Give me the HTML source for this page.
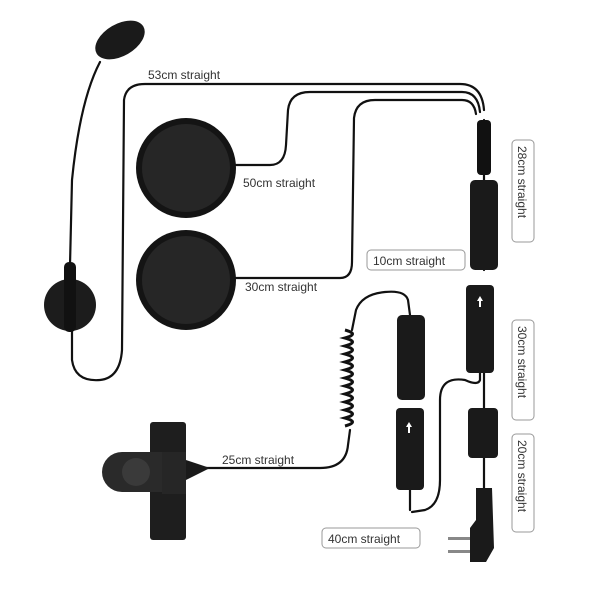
<!DOCTYPE html>
<html><head><meta charset="utf-8"><style>
html,body{margin:0;padding:0;background:#fff;}
svg{display:block}
text{font-family:"Liberation Sans",sans-serif;font-size:12px;fill:#333}
</style></head><body>
<svg width="600" height="600" viewBox="0 0 600 600" xmlns="http://www.w3.org/2000/svg">
<g fill="none" stroke="#111" stroke-width="2.2" stroke-linecap="round">
 <path d="M100 62 Q80 100 72 180 L70 265"/>
 <path d="M72 330 L72 360 Q75 382 100 380 Q120 378 122 350 L124 100 Q126 84 145 84 L460 84 Q482 84 484 110"/>
 <path d="M232 165 L270 165 Q285 165 286 145 L288 110 Q290 92 310 92 L462 92 Q478 92 480 112"/>
 <path d="M232 278 L340 278 Q352 278 352 262 L354 118 Q356 100 375 100 L462 100 Q474 100 476 114"/>
 <path d="M484 120 L484 270"/>
 <path d="M480 360 L480 380 Q478 386 465 380 Q440 376 440 400 L440 480 Q440 505 425 510 L412 512"/>
 <path d="M484 370 L484 410"/>
 <path d="M484 455 L484 490"/>
 <path d="M410 315 L408 300 Q405 290 385 292 Q362 294 356 310 L352 330"/>
 <path d="M350 430 L348 445 Q346 468 320 468 L205 468"/>
 <path d="M410 490 L410 510"/>
</g>
<g stroke="#111" stroke-width="3" fill="none">
 <path d="M345 330 q15 4 0 8 q15 4 0 8 q15 4 0 8 q15 4 0 8 q15 4 0 8 q15 4 0 8 q15 4 0 8 q15 4 0 8 q15 4 0 8 q15 4 0 8 q15 4 0 8 q15 4 0 8"/>
</g>
<ellipse cx="120" cy="40" rx="27" ry="16" transform="rotate(-30 120 40)" fill="#1a1a1a"/>
<circle cx="70" cy="305" r="26" fill="#1c1c1c"/>
<rect x="64" y="262" width="12" height="70" rx="5" fill="#111"/>
<circle cx="186" cy="168" r="50" fill="#141414"/>
<circle cx="186" cy="168" r="44" fill="#262626"/>
<circle cx="186" cy="280" r="50" fill="#141414"/>
<circle cx="186" cy="280" r="44" fill="#262626"/>
<rect x="477" y="120" width="14" height="55" rx="4" fill="#111"/>
<rect x="470" y="180" width="28" height="90" rx="5" fill="#1a1a1a"/>
<rect x="466" y="285" width="28" height="88" rx="4" fill="#1a1a1a"/>
<rect x="397" y="315" width="28" height="85" rx="5" fill="#1a1a1a"/>
<rect x="396" y="408" width="28" height="82" rx="4" fill="#1a1a1a"/>
<rect x="468" y="408" width="30" height="50" rx="4" fill="#1a1a1a"/>
<path d="M476 488 L492 488 L494 548 L486 562 L470 562 L470 528 L476 520 Z" fill="#1a1a1a"/>
<rect x="448" y="537" width="22" height="3" fill="#888"/>
<rect x="448" y="550" width="22" height="3" fill="#888"/>
<path d="M409 422 l-3 5 h2 v6 h2 v-6 h2 z M480 296 l-3 5 h2 v6 h2 v-6 h2 z" fill="#fff"/>
<!-- PTT clip -->
<rect x="150" y="422" width="36" height="118" rx="3" fill="#1e1e1e"/>
<path d="M122 452 L185 452 L185 492 L122 492 A20 20 0 0 1 122 452 Z" fill="#2a2a2a"/>
<circle cx="136" cy="472" r="14" fill="#3a3a3a"/>
<rect x="162" y="452" width="24" height="42" fill="#262626"/>
<path d="M186 460 L210 468 L186 480 Z" fill="#1a1a1a"/>
<text x="148" y="79">53cm straight</text>
<text x="243" y="187">50cm straight</text>
<text x="245" y="291">30cm straight</text>
<text x="222" y="464">25cm straight</text>
<g fill="#fff" stroke="#999" stroke-width="1">
 <rect x="367" y="250" width="98" height="20" rx="4"/>
 <rect x="322" y="528" width="98" height="20" rx="4"/>
 <rect x="512" y="140" width="22" height="102" rx="4"/>
 <rect x="512" y="320" width="22" height="100" rx="4"/>
 <rect x="512" y="434" width="22" height="98" rx="4"/>
</g>
<text x="373" y="265">10cm straight</text>
<text x="328" y="543">40cm straight</text>
<text transform="translate(518 146) rotate(90)">28cm straight</text>
<text transform="translate(518 326) rotate(90)">30cm straight</text>
<text transform="translate(518 440) rotate(90)">20cm straight</text>
</svg>
</body></html>
